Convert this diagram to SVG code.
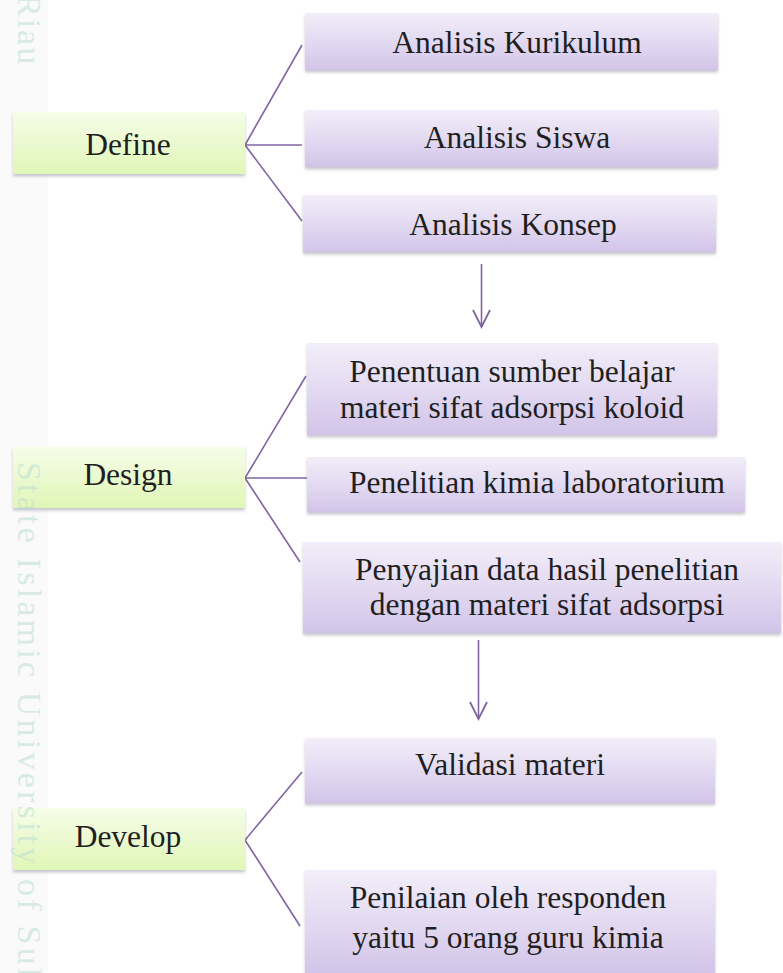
<svg xmlns="http://www.w3.org/2000/svg" width="783" height="973" viewBox="0 0 783 973">
<defs>
<linearGradient id="gp" x1="0" y1="0" x2="0" y2="1">
<stop offset="0" stop-color="#f2eef9"/>
<stop offset="0.6" stop-color="#e0d6f0"/>
<stop offset="1" stop-color="#d2c4e8"/>
</linearGradient>
<linearGradient id="gg" x1="0" y1="0" x2="0" y2="1">
<stop offset="0" stop-color="#f6fdea"/>
<stop offset="1" stop-color="#e0f6b6"/>
</linearGradient>
<filter id="sh" x="-5%" y="-10%" width="110%" height="130%">
<feDropShadow dx="0" dy="2.5" stdDeviation="1.5" flood-color="#8a8296" flood-opacity="0.45"/>
</filter>
<marker id="ah" markerWidth="20" markerHeight="20" refX="18" refY="10" orient="auto" markerUnits="userSpaceOnUse" viewBox="0 0 20 20">
<path d="M1,1.5 L18,10 L1,18.5" fill="none" stroke="#8064a2" stroke-width="1.8"/>
</marker>
</defs>
<style>
.p{fill:url(#gp);filter:url(#sh)}
.g{fill:url(#gg);filter:url(#sh)}
.t{font-family:"Liberation Serif","Times New Roman",serif;font-size:31.5px;fill:#1f1f1f;text-anchor:middle}
.c{fill:none;stroke:#8064a2;stroke-width:1.6}
.wm{font-family:"Liberation Serif","Times New Roman",serif;fill:#b9ddd4;fill-opacity:0.55}
</style>
<rect x="0" y="0" width="783" height="973" fill="#ffffff"/>
<rect x="0" y="0" width="48" height="973" fill="#fafafa"/>
<g id="connectors">
<path class="c" d="M302,45 L245,145 L302,145 M245,145 L302,221"/>
<path class="c" d="M306,376 L245,478 L308,478 M245,478 L300,562"/>
<path class="c" d="M302,772 L245,840 L300,926"/>
<line class="c" x1="481.5" y1="264" x2="481.5" y2="327" marker-end="url(#ah)"/>
<line class="c" x1="478.5" y1="640" x2="478.5" y2="719" marker-end="url(#ah)"/>
</g>
<g id="define"><rect class="g" x="13" y="112" width="232" height="62"/><text class="t" x="128" y="155">Define</text></g>
<g id="analisis-kurikulum"><rect class="p" x="305" y="13" width="413" height="57"/><text class="t" x="517" y="53">Analisis Kurikulum</text></g>
<g id="analisis-siswa"><rect class="p" x="305" y="110" width="413" height="57"/><text class="t" x="517" y="148">Analisis Siswa</text></g>
<g id="analisis-konsep"><rect class="p" x="303" y="195" width="413" height="57"/><text class="t" x="513" y="235">Analisis Konsep</text></g>
<g id="design"><rect class="g" x="13" y="447" width="232" height="61"/><text class="t" x="128" y="485">Design</text></g>
<g id="penentuan"><rect class="p" x="307" y="343" width="410" height="92"/><text class="t" x="512" y="382">Penentuan sumber belajar</text><text class="t" x="512" y="418">materi sifat adsorpsi koloid</text></g>
<g id="penelitian"><rect class="p" x="307" y="457" width="438" height="55"/><text class="t" x="537" y="493">Penelitian kimia laboratorium</text></g>
<g id="penyajian"><rect class="p" x="303" y="542" width="478" height="91"/><text class="t" x="547" y="580">Penyajian data hasil penelitian</text><text class="t" x="547" y="615">dengan materi sifat adsorpsi</text></g>
<g id="develop"><rect class="g" x="13" y="808" width="232" height="62"/><text class="t" x="128" y="847">Develop</text></g>
<g id="validasi"><rect class="p" x="305" y="738" width="410" height="65"/><text class="t" x="510" y="775">Validasi materi</text></g>
<g id="penilaian"><rect class="p" x="305" y="870" width="410" height="103"/><text class="t" x="508" y="908">Penilaian oleh responden</text><text class="t" x="508" y="948">yaitu 5 orang guru kimia</text></g>
<g id="watermark">
<text class="wm" font-size="34" transform="translate(18,-6) rotate(90)" letter-spacing="2">Riau</text>
<text class="wm" font-size="34" transform="translate(18,462) rotate(90)" letter-spacing="3.2">State Islamic University of Sultan</text>
</g>
</svg>
